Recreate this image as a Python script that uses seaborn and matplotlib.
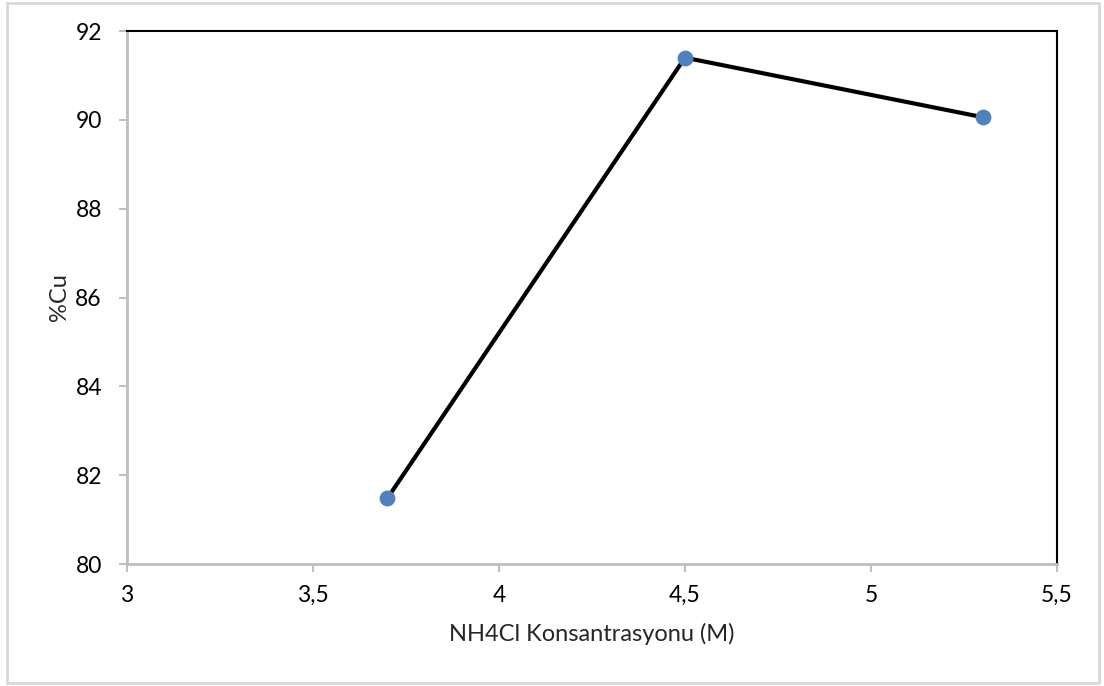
import matplotlib
matplotlib.use("Agg")
import matplotlib.pyplot as plt
from matplotlib.patches import Rectangle
import seaborn as sns
import pandas as pd

# NH4Cl concentration (M) vs copper recovery (%)
concentration = [3.7, 4.5, 5.3]
cu_percent = [81.48, 91.40, 90.06]
x_ticks = [3, 3.5, 4, 4.5, 5, 5.5]
x_tick_labels = ["3", "3,5", "4", "4,5", "5", "5,5"]
y_ticks = [80, 82, 84, 86, 88, 90, 92]

df = pd.DataFrame({"conc": concentration, "cu": cu_percent})

sns.set_style("white")
plt.rcParams["font.family"] = ["Lato", "DejaVu Sans"]

fig = plt.figure(figsize=(11.04, 6.86), dpi=100)
ax = fig.add_axes([0.1150, 0.1778, 0.8424, 0.7770])

sns.lineplot(data=df, x="conc", y="cu", ax=ax, color="black", linewidth=3,
             zorder=2)
sns.scatterplot(data=df, x="conc", y="cu", ax=ax, color="#4f81bd", s=130,
                edgecolor="#4f81bd", linewidth=0, zorder=3)

ax.set_xlim(3, 5.5)
ax.set_ylim(80, 92)
ax.set_xticks(x_ticks)
ax.set_xticklabels(x_tick_labels)
ax.set_yticks(y_ticks)

ax.set_xlabel("NH4Cl Konsantrasyonu (M)", fontsize=17, labelpad=12)
ax.set_ylabel("%Cu", fontsize=17, labelpad=4)

ax.tick_params(axis="both", which="major", labelsize=16.5, direction="out",
               length=6, width=1.5, color="#bfbfbf", labelcolor="black",
               bottom=True, left=True)
ax.tick_params(axis="x", pad=9)
ax.tick_params(axis="y", pad=12)

for side in ("left", "bottom"):
    ax.spines[side].set_color("#bfbfbf")
    ax.spines[side].set_linewidth(2)
for side in ("top", "right"):
    ax.spines[side].set_color("black")
    ax.spines[side].set_linewidth(1.5)

# Light grey frame around the whole chart area
fig.patches.append(Rectangle((6.5 / 1104, 3 / 686), 1092 / 1104, 680 / 686,
                             transform=fig.transFigure, fill=False,
                             edgecolor="#d9d9d9", linewidth=2))

fig.savefig("out.png", dpi=100, facecolor="white")
